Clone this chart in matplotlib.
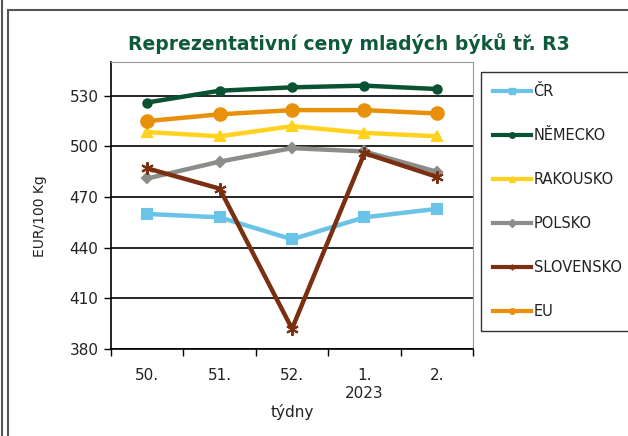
import matplotlib
matplotlib.use('Agg')
from matplotlib import pyplot as plt
from matplotlib.patches import Rectangle
from matplotlib.lines import Line2D

# data
weeks = ['50.', '51.', '52.', '1.\n2023', '2.']
cr = [460, 458, 445, 458, 463]
nemecko = [526, 533, 535, 536, 534]
rakousko = [508.5, 506, 512, 508, 506]
polsko = [481, 491, 499, 497, 485]
slovensko = [487, 475, 392, 496, 482]
eu = [515, 519, 521.5, 521.5, 519.5]

series = [
    ('ČR', cr, '#6cc3e8', 's', 7),
    ('NĚMECKO', nemecko, '#0b5232', 'o', 6),
    ('RAKOUSKO', rakousko, '#ffd21f', '^', 7),
    ('POLSKO', polsko, '#8c8c88', 'D', 5),
    ('SLOVENSKO', slovensko, '#7a3010', (6, 2, 0), 9),
    ('EU', eu, '#e8900a', 'o', 9),
]

plt.rcParams['font.family'] = ['DejaVu Sans']
fig = plt.figure(figsize=(6.28, 4.36), dpi=100)
ax = fig.add_axes([0.1768, 0.1995, 0.5764, 0.6583])

x = list(range(len(weeks)))
lines = []
for name, vals, col, mk, ms in series:
    ln, = ax.plot(x, vals, color=col, lw=3.2, marker=mk, markersize=ms,
                  markerfacecolor=col, markeredgecolor=col, markeredgewidth=1.5,
                  label=name, zorder=3)
    lines.append(ln)

ax.set_ylim(380, 550)
ax.set_yticks([380, 410, 440, 470, 500, 530])
ax.set_xlim(-0.5, 4.5)
ax.set_xticks([i - 0.5 for i in range(len(weeks) + 1)])
ax.set_xticklabels([])
ax.set_xticks(x, minor=True)
ax.set_xticklabels(weeks, minor=True, fontsize=11, color='#222222')
ax.tick_params(axis='x', which='major', length=5, direction='out', width=1)
ax.tick_params(axis='x', which='minor', length=0, pad=14)
ax.tick_params(axis='y', length=5, direction='out', width=1, labelsize=11,
               labelcolor='#222222', pad=4)
ax.grid(axis='y', color='black', lw=1.2, zorder=1)
ax.set_axisbelow(True)
for s in ['top', 'right']:
    ax.spines[s].set_color('#9a9a9a')
for s in ['left', 'bottom']:
    ax.spines[s].set_color('black')
    ax.spines[s].set_linewidth(1.2)

ax.set_xlabel('týdny', fontsize=11, color='#222222', labelpad=2)
fig.text(0.064, 0.505, 'EUR/100 Kg', rotation=90, fontsize=10, color='#222222',
         ha='center', va='center')

fig.text(0.555, 0.90, 'Reprezentativní ceny mladých býků tř. R3',
         fontsize=13.5, fontweight='bold', color='#0e5a3a', ha='center', va='center')

leg = fig.legend(handles=[Line2D([0], [0], color=l.get_color(), lw=3,
                                  marker=l.get_marker(), markersize=4,
                                  markerfacecolor=l.get_color(),
                                  markeredgecolor=l.get_color())
                           for l in lines],
                 labels=[s[0] for s in series],
                 loc='upper left', bbox_to_anchor=(0.766, 0.835),
                 fontsize=10.5, frameon=True, fancybox=False, edgecolor='black',
                 labelspacing=2.0, handlelength=2.6, handletextpad=0.2,
                 borderpad=0.8, borderaxespad=0)
leg.get_frame().set_linewidth(1.0)
for t in leg.get_texts():
    t.set_color('#222222')

# outer chart frame
fig.add_artist(Rectangle((8 / 628, -0.05), 1.0, 1 - 10 / 436 + 0.05,
                         transform=fig.transFigure, fill=False,
                         edgecolor='#555555', lw=1.5))
fig.add_artist(Line2D([1.5 / 628, 1.5 / 628], [0, 1], transform=fig.transFigure,
                      color='#555555', lw=1.5))

fig.savefig('out.png', dpi=100)
